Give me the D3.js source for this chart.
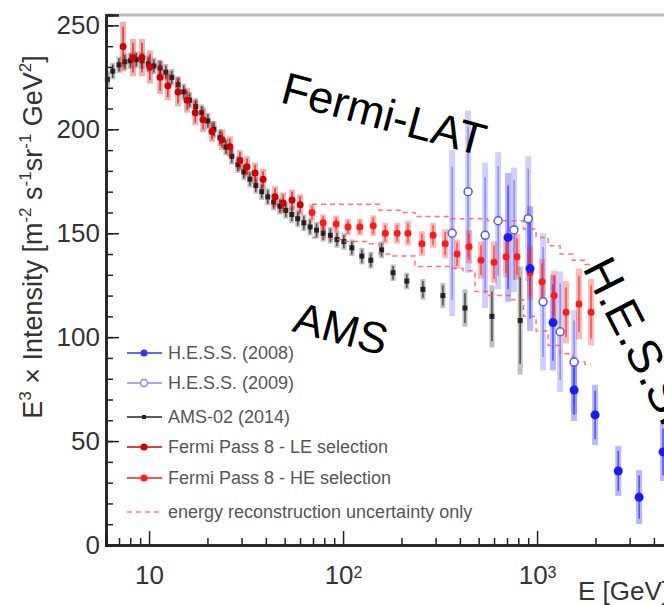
<!DOCTYPE html>
<html>
<head>
<meta charset="utf-8">
<script src="https://cdn.jsdelivr.net/npm/d3@7"></script>
<style>
  body { margin: 0; background: #fff; }
  svg { display: block; font-family: "Liberation Sans", Arial, sans-serif; }
</style>
</head>
<body>
<svg id="chart" width="664" height="605"></svg>
<script>
// AMS-02 (2014)
const amsE = [6.1, 6.5, 7.0, 7.5, 8.0, 8.6, 9.2, 9.9, 10.6, 11.4, 12.2, 13.1, 14.1, 15.1, 16.2, 17.4, 18.7, 20.1, 21.6, 23.2, 24.9, 26.7, 28.7, 30.8, 33.1, 35.5, 38.1, 40.9, 43.9, 47.2, 50.7, 54.4, 58.4, 62.8, 67.6, 73, 79, 86, 93, 101, 111, 125, 139, 158, 181, 213, 258, 327, 425, 585, 818];
const amsV = [224, 228, 231, 232.5, 233, 233.5, 233, 231.5, 230.5, 229.5, 227.5, 225, 221.5, 218, 214, 211, 208, 204, 200, 196, 191.5, 187, 183, 179.5, 176, 173, 170, 167.5, 165, 163, 161, 159, 157, 155, 153, 151.5, 150, 149, 147, 146, 143, 139, 137, 142, 131, 127, 123, 120, 114, 110, 108];
const amsErr = [4, 4, 4, 4, 4, 4, 4, 4, 4, 4, 4, 4, 4, 4, 4, 4, 4, 4, 4, 4, 4, 4, 4, 4, 4, 4, 4, 4, 4, 4, 4, 4, 4, 4, 4, 4, 4, 4, 4, 4, 4, 4, 4, 4, 4, 4, 5, 6, 9, 15, 26];

// Fermi Pass 8 - LE selection
const leE = [7.35, 8.27, 9.2, 10.1, 11.4, 12.5, 14.1, 15.7, 17.3, 19.0, 21.1, 23.8, 26.1, 29.4, 32.0, 35.2, 38.7, 44.6, 49.1, 54.6, 60.1];
const leV = [239.8, 234.5, 234.5, 230, 225, 221, 218, 214, 208, 204.6, 199, 195, 191.6, 185, 182, 179, 176, 167.6, 164.6, 166, 163.7];
const leErr = [12, 9, 9, 8, 8, 7, 7, 6, 6, 6, 5, 5, 5, 5, 5, 5, 5, 5, 5, 5, 5];

// Fermi Pass 8 - HE selection, with energy reconstruction envelope
const heE = [69.2, 78.9, 92.1, 106, 122, 143, 165, 190, 216, 255, 291, 336, 387, 446, 514, 600, 692, 788, 920, 1061, 1225, 1410, 1645, 1897];
const heV = [160, 155, 154.5, 153, 153, 153.6, 150, 150, 150, 145, 149, 145, 140, 143.5, 137, 136, 138.7, 138.7, 131, 126.6, 120, 112, 116, 112];
const heErr = [4, 4, 4, 4, 4, 5, 5, 5, 6, 6, 6, 7, 7, 8, 9, 10, 10, 11, 13, 11, 12, 15, 17, 16];
const heUp = [164, 164, 164, 164, 164, 164, 161, 161, 160, 158, 158, 158, 157, 157, 157, 156, 156, 156, 152, 148, 144, 140, 137, 135];
const heLo = [148, 148, 147, 146, 146, 145, 140, 139, 139, 134, 134, 134, 133, 132, 122, 120, 120, 118, 110, 103, 96, 92, 88, 87];

// H.E.S.S. (2008)
const hess08E = [709, 920, 1208, 1552, 1990, 2620, 3357, 4458];
const hess08V = [148, 133, 107, 74.6, 62.6, 35.6, 23, 44.8];
const hess08Err = [31, 30, 23, 15, 14.5, 12, 13, 14];

// H.E.S.S. (2009)
const hess09E = [365, 441, 540, 630, 760, 900, 1074, 1315, 1552];
const hess09V = [150, 170, 149, 156, 151.6, 157, 117, 102.6, 88];
const hess09Err = [40, 39, 35, 33, 30, 30, 33, 29, 25];

const yTicks = [0, 50, 100, 150, 200, 250];
const xTicks = [10, 100, 1000];
const xTickLabels = [["10", ""], ["10", "2"], ["10", "3"]];
const legendLabels = ["H.E.S.S. (2008)", "H.E.S.S. (2009)", "AMS-02 (2014)",
  "Fermi Pass 8 - LE selection", "Fermi Pass 8 - HE selection",
  "energy reconstruction uncertainty only"];

const width = 664, height = 605;
const svg = d3.select("#chart");

const x = d3.scaleLog().domain([6, 5000]).range([106, 672.7]);
const y = d3.scaleLinear().domain([0, 255]).range([545, 15]);

const zip = (E, V, Err) => E.map((e, i) => ({ e, v: V[i], err: Err[i] }));
const ams = zip(amsE, amsV, amsErr);
const le = zip(leE, leV, leErr);
const he = zip(heE, heV, heErr);
const h08 = zip(hess08E, hess08V, hess08Err);
const h09 = zip(hess09E, hess09V, hess09Err);

// frame top edge
svg.append("line")
  .attr("x1", x.range()[0]).attr("x2", width)
  .attr("y1", y.range()[1]).attr("y2", y.range()[1])
  .attr("stroke", "#bbb").attr("stroke-width", 3);

// error bar helper: wide pale band + thin line
function bars(data, color, bandOpacity, lineOpacity, w) {
  const g = svg.append("g");
  g.selectAll("rect").data(data).join("rect")
    .attr("x", d => x(d.e) - w / 2)
    .attr("y", d => y(d.v + d.err))
    .attr("width", w)
    .attr("height", d => y(d.v - d.err) - y(d.v + d.err))
    .attr("fill", color).attr("opacity", bandOpacity);
  g.selectAll("line").data(data).join("line")
    .attr("x1", d => x(d.e)).attr("x2", d => x(d.e))
    .attr("y1", d => y(d.v + d.err * 0.8)).attr("y2", d => y(d.v - d.err * 0.8))
    .attr("stroke", color).attr("stroke-width", 1.5).attr("opacity", lineOpacity);
}

// AMS
bars(ams, "#000", 0.25, 0.6, 5);
svg.append("g").selectAll("rect").data(ams).join("rect")
  .attr("x", d => x(d.e) - 2.5).attr("y", d => y(d.v) - 2.5)
  .attr("width", 5).attr("height", 5).attr("fill", "#111").attr("opacity", 0.85);

// H.E.S.S. bars
bars(h09, "#7777ff", 0.35, 0.8, 6);
bars(h08, "#3333ff", 0.35, 0.8, 6);

// energy reconstruction envelope
const env = d3.line().x(d => x(d[0])).y(d => y(d[1])).curve(d3.curveStep);
[heUp, heLo].forEach(arr => {
  svg.append("path")
    .datum(heE.map((e, i) => [e, arr[i]]))
    .attr("d", env)
    .attr("fill", "none").attr("stroke", "#ff5050")
    .attr("stroke-width", 1.5).attr("stroke-dasharray", "5,4").attr("opacity", 0.8);
});

// Fermi
bars(le, "#d00000", 0.3, 0.7, 6);
bars(he, "#ff1a1a", 0.3, 0.7, 6);
svg.append("g").selectAll("circle").data(le).join("circle")
  .attr("cx", d => x(d.e)).attr("cy", d => y(d.v)).attr("r", 3.5).attr("fill", "#d00000");
svg.append("g").selectAll("circle").data(he).join("circle")
  .attr("cx", d => x(d.e)).attr("cy", d => y(d.v)).attr("r", 3.5).attr("fill", "#ff1a1a");

// H.E.S.S. markers
svg.append("g").selectAll("circle").data(h09).join("circle")
  .attr("cx", d => x(d.e)).attr("cy", d => y(d.v)).attr("r", 4)
  .attr("fill", "#fff").attr("stroke", "#5555ff").attr("stroke-width", 1.5);
svg.append("g").selectAll("circle").data(h08).join("circle")
  .attr("cx", d => x(d.e)).attr("cy", d => y(d.v)).attr("r", 4.5).attr("fill", "#1a1aff");

// axes
const axisColor = "#222";
const yMinor = svg.append("g").attr("transform", `translate(${x.range()[0]},0)`)
  .call(d3.axisLeft(y).tickValues(d3.range(0, 256, 10)).tickSize(-7).tickFormat(""));
const yMajor = svg.append("g").attr("transform", `translate(${x.range()[0]},0)`)
  .call(d3.axisLeft(y).tickValues(yTicks).tickSize(-13).tickPadding(6));

const xMinorVals = [6, 7, 8, 9, 20, 30, 40, 50, 60, 70, 80, 90,
  200, 300, 400, 500, 600, 700, 800, 900, 2000, 3000, 4000, 5000];
const xMinor = svg.append("g").attr("transform", `translate(0,${y(0)})`)
  .call(d3.axisBottom(x).tickValues(xMinorVals).tickSize(-7).tickFormat(""));
const xMajor = svg.append("g").attr("transform", `translate(0,${y(0)})`)
  .call(d3.axisBottom(x).tickValues(xTicks).tickSize(-14).tickPadding(21));

[yMinor, yMajor, xMinor, xMajor].forEach(g => {
  g.selectAll("line").attr("stroke", axisColor).attr("stroke-width", 1.5);
  g.select(".domain").attr("stroke", axisColor).attr("stroke-width", 2.5);
  g.selectAll("text").attr("fill", "#333").attr("font-size", 26)
    .attr("font-family", "Liberation Sans, Arial, sans-serif");
});

xMajor.selectAll(".tick text").each(function (d, i) {
  const t = d3.select(this).text(null);
  t.append("tspan").text(xTickLabels[i][0]);
  if (xTickLabels[i][1]) {
    t.append("tspan").attr("dy", "-0.4em").attr("font-size", 16).text(xTickLabels[i][1]);
  }
});

// axis titles
svg.append("text")
  .attr("x", 578).attr("y", 600)
  .attr("font-size", 26).attr("fill", "#333")
  .text("E [GeV]");

const yl = svg.append("text")
  .attr("transform", "translate(42,237) rotate(-90)")
  .attr("text-anchor", "middle").attr("font-size", 27).attr("fill", "#333");
[["E", 0, 27], ["3", -11, 17], [" \u00d7 Intensity [m", 11, 27], ["-2", -11, 17],
 [" s", 11, 27], ["-1", -11, 17], ["sr", 11, 27], ["-1", -11, 17],
 [" GeV", 11, 27], ["2", -11, 17], ["]", 11, 27]].forEach(([s, dy, fs]) => {
  yl.append("tspan").attr("dy", dy).attr("font-size", fs).text(s);
});

// legend
const legend = svg.append("g").attr("font-size", 18).attr("fill", "#555");
const legendY = [353, 383, 417, 447, 478, 512];
const legendColors = ["#3333ff", "#8888ff", "#222", "#d00000", "#ff1a1a", "#ff8080"];
legendLabels.forEach((lab, i) => {
  const yy = legendY[i];
  legend.append("line").attr("x1", 127).attr("x2", 162).attr("y1", yy).attr("y2", yy)
    .attr("stroke", legendColors[i]).attr("stroke-width", 1.5)
    .attr("stroke-dasharray", i === 5 ? "5,4" : null);
  if (i === 0 || i === 3 || i === 4) {
    legend.append("circle").attr("cx", 144).attr("cy", yy).attr("r", 3.5).attr("fill", legendColors[i]);
  } else if (i === 1) {
    legend.append("circle").attr("cx", 144).attr("cy", yy).attr("r", 3.5)
      .attr("fill", "#fff").attr("stroke", legendColors[i]).attr("stroke-width", 1.5);
  } else if (i === 2) {
    legend.append("rect").attr("x", 142).attr("y", yy - 2).attr("width", 4).attr("height", 4).attr("fill", "#222");
  }
  legend.append("text").attr("x", 168).attr("y", yy).attr("dy", "0.35em").text(lab);
});

// annotations
svg.append("text").attr("transform", "translate(279,102) rotate(15)")
  .attr("font-size", 45).attr("fill", "#000").text("Fermi-LAT");
svg.append("text").attr("transform", "translate(291,331) rotate(15)")
  .attr("font-size", 44).attr("fill", "#000").text("AMS");
svg.append("text").attr("transform", "translate(582,268) rotate(63)")
  .attr("font-size", 47).attr("fill", "#000").text("H.E.S.S.");
</script>
</body>
</html>
